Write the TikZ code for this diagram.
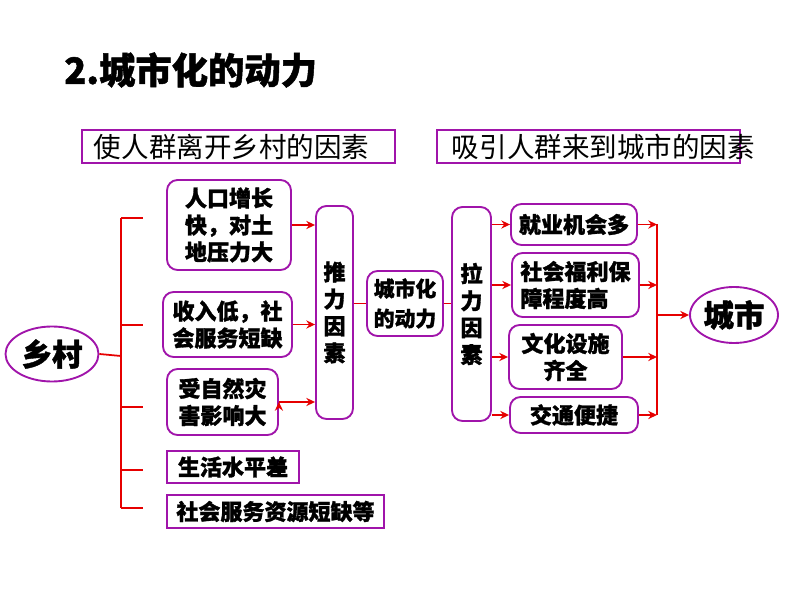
\documentclass[tikz,border=0pt]{standalone}
\usepackage{fontspec}
\setmainfont{Noto Sans CJK SC}[BoldFeatures={FakeBold=1.3}]
\usetikzlibrary{arrows.meta,shapes.geometric,positioning}
\definecolor{boxpurple}{RGB}{160,20,170}
\definecolor{linered}{RGB}{230,0,0}
\tikzset{
x=0.03cm, y=-0.03cm, % one unit is one pixel of the slide
>={Stealth[length=7.5pt,width=7pt,inset=2.5pt]}, % arrow heads
factor/.style={draw=boxpurple, line width=1.6pt, rounded corners=9pt, inner sep=0pt, align=left, font=\bfseries\fontsize{18.8}{23}\selectfont}, % the rounded factor boxes
plainfactor/.style={factor, rounded corners=0pt}, % the square ones at the bottom
header/.style={draw=boxpurple, line width=1pt, inner sep=0pt, minimum height=0.99cm, font=\fontsize{23.5}{28}\selectfont},
place/.style={ellipse, draw=boxpurple, line width=1.6pt, inner sep=0pt, font=\bfseries\fontsize{26}{30}\selectfont},
link/.style={draw=linered, line width=1.5pt},
}

\begin{document}
\begin{tikzpicture}
\useasboundingbox (0,0) rectangle (800,600);

% title and the two headers
\node[anchor=west, inner sep=0pt, font=\bfseries\fontsize{31}{36}\selectfont] (title) at (64,70) {2.城市化的动力};
\node[header] (push) at (238.5,146.5) {\hbox to 9.39cm{\hspace{0.36cm}使人群离开乡村的因素\hfil}};
\node[header] (pull) at (588.5,146.5) {\hbox to 9.09cm{\hspace{0.45cm}\rlap{吸引人群来到城市的因素}\hfil}};

% village side
\node[place, minimum width=2.79cm, minimum height=1.65cm] (xc) at (52,354) {乡村};
\node[factor, minimum width=3.72cm, minimum height=2.7cm] (a) at (229,225) {人口增长\\快，对土\\地压力大};
\node[factor, minimum width=3.87cm, minimum height=1.95cm] (b) at (227.5,324.5) {收入低，社\\会服务短缺};
\node[factor, minimum width=3.33cm, minimum height=1.98cm] (c) at (222.5,402) {受自然灾\\害影响大};
\node[plainfactor, minimum width=3.96cm, minimum height=0.96cm] (d) at (233,467) {生活水平差};
\node[plainfactor, minimum width=6.51cm, minimum height=0.99cm] (e) at (275.5,511.5) {社会服务资源短缺等};
\node[factor, minimum width=1.11cm, minimum height=6.39cm, align=center] (tui) at (334.5,312.5) {推\\力\\因\\素};

% middle
\node[factor, minimum width=2.28cm, minimum height=1.95cm, align=center, font=\bfseries\fontsize{17.8}{25.5}\selectfont] (dl) at (405,303.5) {城市化\\的动力};

% city side
\node[factor, minimum width=1.17cm, minimum height=6.42cm, align=center] (la) at (471.5,314) {拉\\力\\因\\素};
\node[factor, minimum width=3.78cm, minimum height=1.23cm] (j1) at (574,224.5) {就业机会多};
\node[factor, minimum width=3.81cm, minimum height=1.92cm] (j2) at (575.5,285) {社会福利保\\障程度高};
\node[factor, minimum width=3.39cm, minimum height=1.92cm, align=center] (j3) at (565.5,357) {文化设施\\齐全};
\node[factor, minimum width=3.84cm, minimum height=1.08cm] (j4) at (574,415) {交通便捷};
\node[place, minimum width=2.64cm, minimum height=1.68cm] (city) at (734,315) {城市};

% bracket from the village
\coordinate (bk) at (121,356);
\draw[link] (xc.east) -- (bk);
\draw[link] (121,218) -- (121,508);
\foreach \y in {218,325,407,470,508}
  \draw[link] (121,\y) -- (143,\y);

\draw[link, ->]
(a.east) edge (a.east -| tui.west)
(b.east) edge (b.east -| tui.west)
(c.east) edge (c.east -| tui.west);
\draw[link] (dl.west -| tui.east) -- (dl.west);
\draw[link] (dl.east) -- (dl.east -| la.west);
\foreach \n in {j1,j2,j3,j4}
  \draw[link, ->] (\n.west -| la.east) -- (\n.west);

% collector into the city
\coordinate (rx) at (657,0);
\foreach \n in {j1,j2,j3,j4}
  \draw[link, ->] (\n.east) -- (\n.east -| rx);
\draw[link] (j1.east -| rx) -- (j4.east -| rx);
\draw[link, ->] (city.west -| rx) -- (city.west);
\end{tikzpicture}
\end{document}
